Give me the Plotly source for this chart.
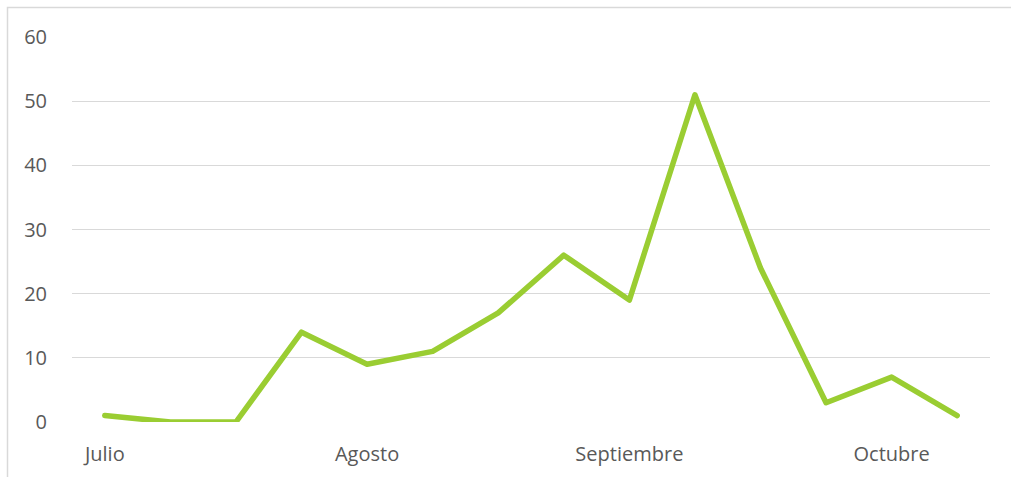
import plotly.graph_objects as go

periods = list(range(14))
values = [1, 0, 0, 14, 9, 11, 17, 26, 19, 51, 24, 3, 7, 1]
label_positions = [0, 4, 8, 12]
label_texts = ["Julio", "Agosto", "Septiembre", "Octubre"]
y_ticks = [0, 10, 20, 30, 40, 50, 60]

fig = go.Figure()
fig.add_trace(go.Scatter(
    x=periods, y=values, mode="lines",
    line=dict(color="#9ACD32", width=5.5, shape="linear"),
    hoverinfo="skip",
))

W, H = 1011, 477
L, R, T, B = 72, W - 990, 37, H - 422
pw, ph = W - L - R, H - T - B

fig.update_layout(
    width=W, height=H,
    margin=dict(l=L, r=R, t=T, b=B, autoexpand=False),
    paper_bgcolor="white", plot_bgcolor="white",
    showlegend=False,
    font=dict(family="Open Sans, sans-serif", size=20, color="#595959"),
    xaxis=dict(
        range=[-0.5, 13.5], tickvals=label_positions, ticktext=label_texts,
        showgrid=False, zeroline=False, showline=False, automargin=False,
        ticks="outside", ticklen=14, tickcolor="rgba(0,0,0,0)",
    ),
    yaxis=dict(
        range=[0, 60], tickvals=y_ticks,
        showgrid=True, gridcolor="#D9D9D9", gridwidth=1.3,
        zeroline=False, showline=False, automargin=False,
        ticks="outside", ticklen=20, tickcolor="rgba(0,0,0,0)",
    ),
    shapes=[dict(
        type="rect", xref="paper", yref="paper",
        x0=(7.5 - L) / pw, x1=(1020 - L) / pw,
        y0=(422 - 485) / ph, y1=(422 - 7.5) / ph,
        line=dict(color="#D9D9D9", width=1.5), fillcolor="rgba(0,0,0,0)",
        layer="below",
    )],
)

fig.write_html(
    "out.html",
    config={"displayModeBar": False},
    post_script=(
        "document.body.style.margin='0';document.body.style.overflow='hidden';"
        "document.querySelectorAll('.scatterlayer path.js-line').forEach(function(p){"
        "p.style.strokeLinecap='round';p.style.strokeLinejoin='round';});"
    ),
)
